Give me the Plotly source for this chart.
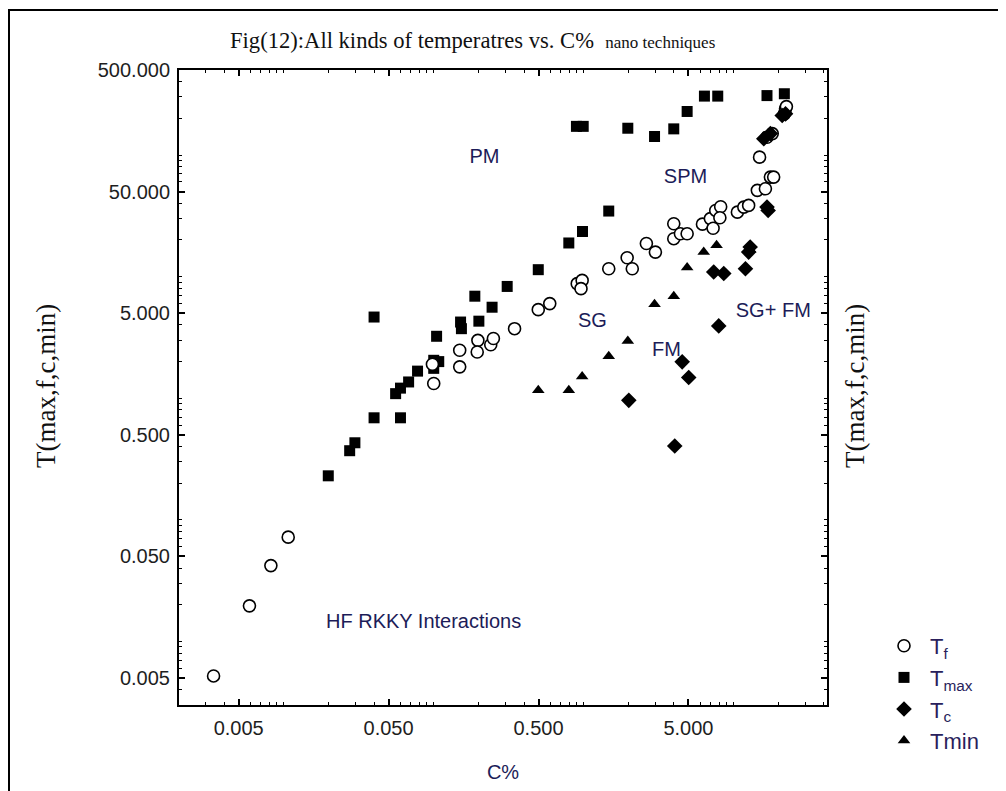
import plotly.graph_objects as go

# ---------------- data ----------------
tf_c = [0.0034, 0.0059, 0.0082, 0.0107, 0.100, 0.098, 0.149, 0.149, 0.197, 0.195,
        0.240, 0.250, 0.346, 0.498, 0.594, 0.906, 0.977, 0.960, 1.47, 1.95,
        2.11, 2.62, 3.01, 3.99, 3.99, 4.42, 4.90, 6.20, 7.00, 7.30,
        7.60, 8.20, 8.10, 10.6, 11.7, 12.6, 14.4, 16.3, 17.6, 18.5,
        14.9, 16.7, 18.1, 21.8, 22.2, 22.5]
tf_t = [0.0052, 0.0196, 0.042, 0.072, 1.32, 1.9, 1.81, 2.48, 2.99, 2.4,
        2.75, 3.1, 3.73, 5.35, 6.0, 8.75, 9.31, 7.96, 11.6, 14.3,
        11.6, 18.7, 15.9, 27.2, 20.5, 22.5, 22.5, 27.0, 30.0, 25.0,
        35.0, 37.5, 30.5, 33.9, 37.3, 38.5, 51.2, 52.8, 65.8, 65.8,
        96.0, 140.0, 150.0, 218.0, 240.0, 250.0]

tmax_c = [0.040, 0.040, 0.060, 0.0298, 0.0275, 0.0198, 0.0557, 0.060, 0.068, 0.078,
          0.100, 0.108, 0.100, 0.1045, 0.151, 0.153, 0.200, 0.188, 0.245, 0.309,
          0.498, 0.796, 0.982, 1.47, 0.895, 0.993, 1.97, 2.97, 3.99, 4.90,
          6.39, 7.84, 16.7, 21.8]
tmax_t = [4.65, 0.69, 0.69, 0.43, 0.37, 0.23, 1.09, 1.21, 1.36, 1.67,
          2.05, 2.0, 1.76, 3.23, 4.23, 3.73, 4.3, 6.9, 5.6, 8.3,
          11.4, 18.9, 23.5, 34.6, 172.0, 172.0, 166.0, 142.0, 164.0, 228.0,
          305.0, 305.0, 308.0, 319.0]

tc_c = [7.96, 4.54, 5.02, 2.00, 4.05, 7.37, 8.60, 12.0, 12.6, 12.9,
        16.7, 17.0, 15.9, 17.6, 21.1, 22.2]
tc_t = [3.93, 1.99, 1.48, 0.96, 0.405, 10.9, 10.6, 11.6, 15.9, 17.5,
        37.3, 35.0, 136.0, 150.0, 211.0, 218.0]

tmin_c = [0.498, 0.796, 0.977, 1.47, 1.97, 2.97, 3.99, 4.90, 6.32, 7.70, 12.9]
tmin_t = [1.16, 1.16, 1.51, 2.21, 2.96, 5.92, 6.89, 11.9, 15.9, 18.1, 16.6]

x_tickvals = [0.005, 0.05, 0.5, 5]
x_ticktext = ["0.005", "0.050", "0.500", "5.000"]
y_tickvals = [0.005, 0.05, 0.5, 5, 50, 500]
y_ticktext = ["0.005", "0.050", "0.500", "5.000", "50.000", "500.000"]

region_labels = ["PM", "SPM", "SG", "FM", "SG+ FM", "HF RKKY Interactions"]
region_c = [0.218, 4.78, 1.145, 3.57, 18.4, 0.0856]
region_t = [93.7, 64.2, 4.21, 2.43, 5.12, 0.0142]

# ---------------- figure ----------------
OFF = 8                      # page body margin of the html page
W, H = 1006 - OFF, 791 - OFF
L, R, T, B = 179, 827, 70, 705   # plot box in reference-picture pixels
TEXT = "#1c1c58"
DARK = "#111111"

fig = go.Figure()

fig.add_trace(go.Scatter(x=tmax_c, y=tmax_t, mode="markers", name="T<sub>max</sub>",
                         legendrank=2, legendgroup="b",
                         marker=dict(symbol="square", size=11, color="black")))
fig.add_trace(go.Scatter(x=tf_c, y=tf_t, mode="markers", name="T<sub>f</sub>",
                         legendrank=1, legendgroup="a",
                         marker=dict(symbol="circle", size=12, color="white",
                                     line=dict(color="black", width=1.6))))
fig.add_trace(go.Scatter(x=tc_c, y=tc_t, mode="markers", name="T<sub>c</sub>",
                         legendrank=3, legendgroup="c",
                         marker=dict(symbol="diamond", size=12, color="black")))
fig.add_trace(go.Scatter(x=tmin_c, y=tmin_t, mode="markers", name="Tmin",
                         legendrank=4, legendgroup="d",
                         marker=dict(symbol="triangle-up", size=11, color="black")))

fig.add_trace(go.Scatter(x=region_c, y=region_t, mode="text", text=region_labels,
                         textfont=dict(family="Liberation Sans, Arial", size=20, color=TEXT),
                         showlegend=False, hoverinfo="skip"))

minor_vals = [k * 10 ** e for e in range(-3, 3) for k in range(1, 10)]

axis_common = dict(type="log", showgrid=False, zeroline=False, automargin=False,
                   showline=True, linecolor="black", linewidth=2, mirror="ticks",
                   ticks="inside", ticklen=6, tickwidth=1.5, tickcolor="black",
                   tickfont=dict(family="Liberation Sans, Arial", size=20, color="#1e1e1e"),
                   minor=dict(tickmode="array", tickvals=minor_vals, ticks="inside",
                              ticklen=3, tickwidth=1.3, tickcolor="black"))

fig.update_xaxes(**axis_common, range=[-2.699, 1.623], ticklabelstandoff=4,
                 tickmode="array", tickvals=x_tickvals, ticktext=x_ticktext,
                 title=dict(text="C%", standoff=27,
                            font=dict(family="Liberation Sans, Arial", size=20, color=TEXT)))
fig.update_yaxes(**axis_common, range=[-2.523, 2.699], ticklabelstandoff=3,
                 tickmode="array", tickvals=y_tickvals, ticktext=y_ticktext)

def px(xp):
    return (xp - L) / (R - L)

def py(yp):
    return (B - yp) / (B - T)

ytitle_font = dict(family="Liberation Serif, Times New Roman", size=27, color=DARK)
fig.add_annotation(x=px(46), y=py(386), xref="paper", yref="paper", text="T(max,f,c,min)",
                   textangle=-90, showarrow=False, xanchor="center", yanchor="middle",
                   font=ytitle_font)
fig.add_annotation(x=px(855), y=py(386), xref="paper", yref="paper", text="T(max,f,c,min)",
                   textangle=-90, showarrow=False, xanchor="center", yanchor="middle",
                   font=ytitle_font)

fig.add_annotation(x=px(472), y=py(40), xref="paper", yref="paper", showarrow=False,
                   xanchor="center", yanchor="middle",
                   text="Fig(12):All kinds of temperatres vs. C%  <span style='font-size:17px'>nano techniques</span>",
                   font=dict(family="Liberation Serif, Times New Roman", size=22.6, color=DARK))

# outer frame of the picture
fig.add_shape(type="rect", xref="paper", yref="paper",
              x0=px(9), y0=py(1200), x1=px(1200), y1=py(10),
              line=dict(color="black", width=2), fillcolor="rgba(0,0,0,0)")

fig.update_layout(
    width=W, height=H,
    margin=dict(l=L - OFF, r=W - (R - OFF), t=T - OFF, b=H - (B - OFF), autoexpand=False),
    paper_bgcolor="white", plot_bgcolor="white",
    showlegend=True,
    legend=dict(x=px(878), y=py(625), xanchor="left", yanchor="top",
                traceorder="normal", tracegroupgap=9, itemwidth=42,
                bgcolor="rgba(0,0,0,0)",
                font=dict(family="Liberation Sans, Arial", size=22, color="#2a1f5c")),
)

fig.write_html("out.html")
